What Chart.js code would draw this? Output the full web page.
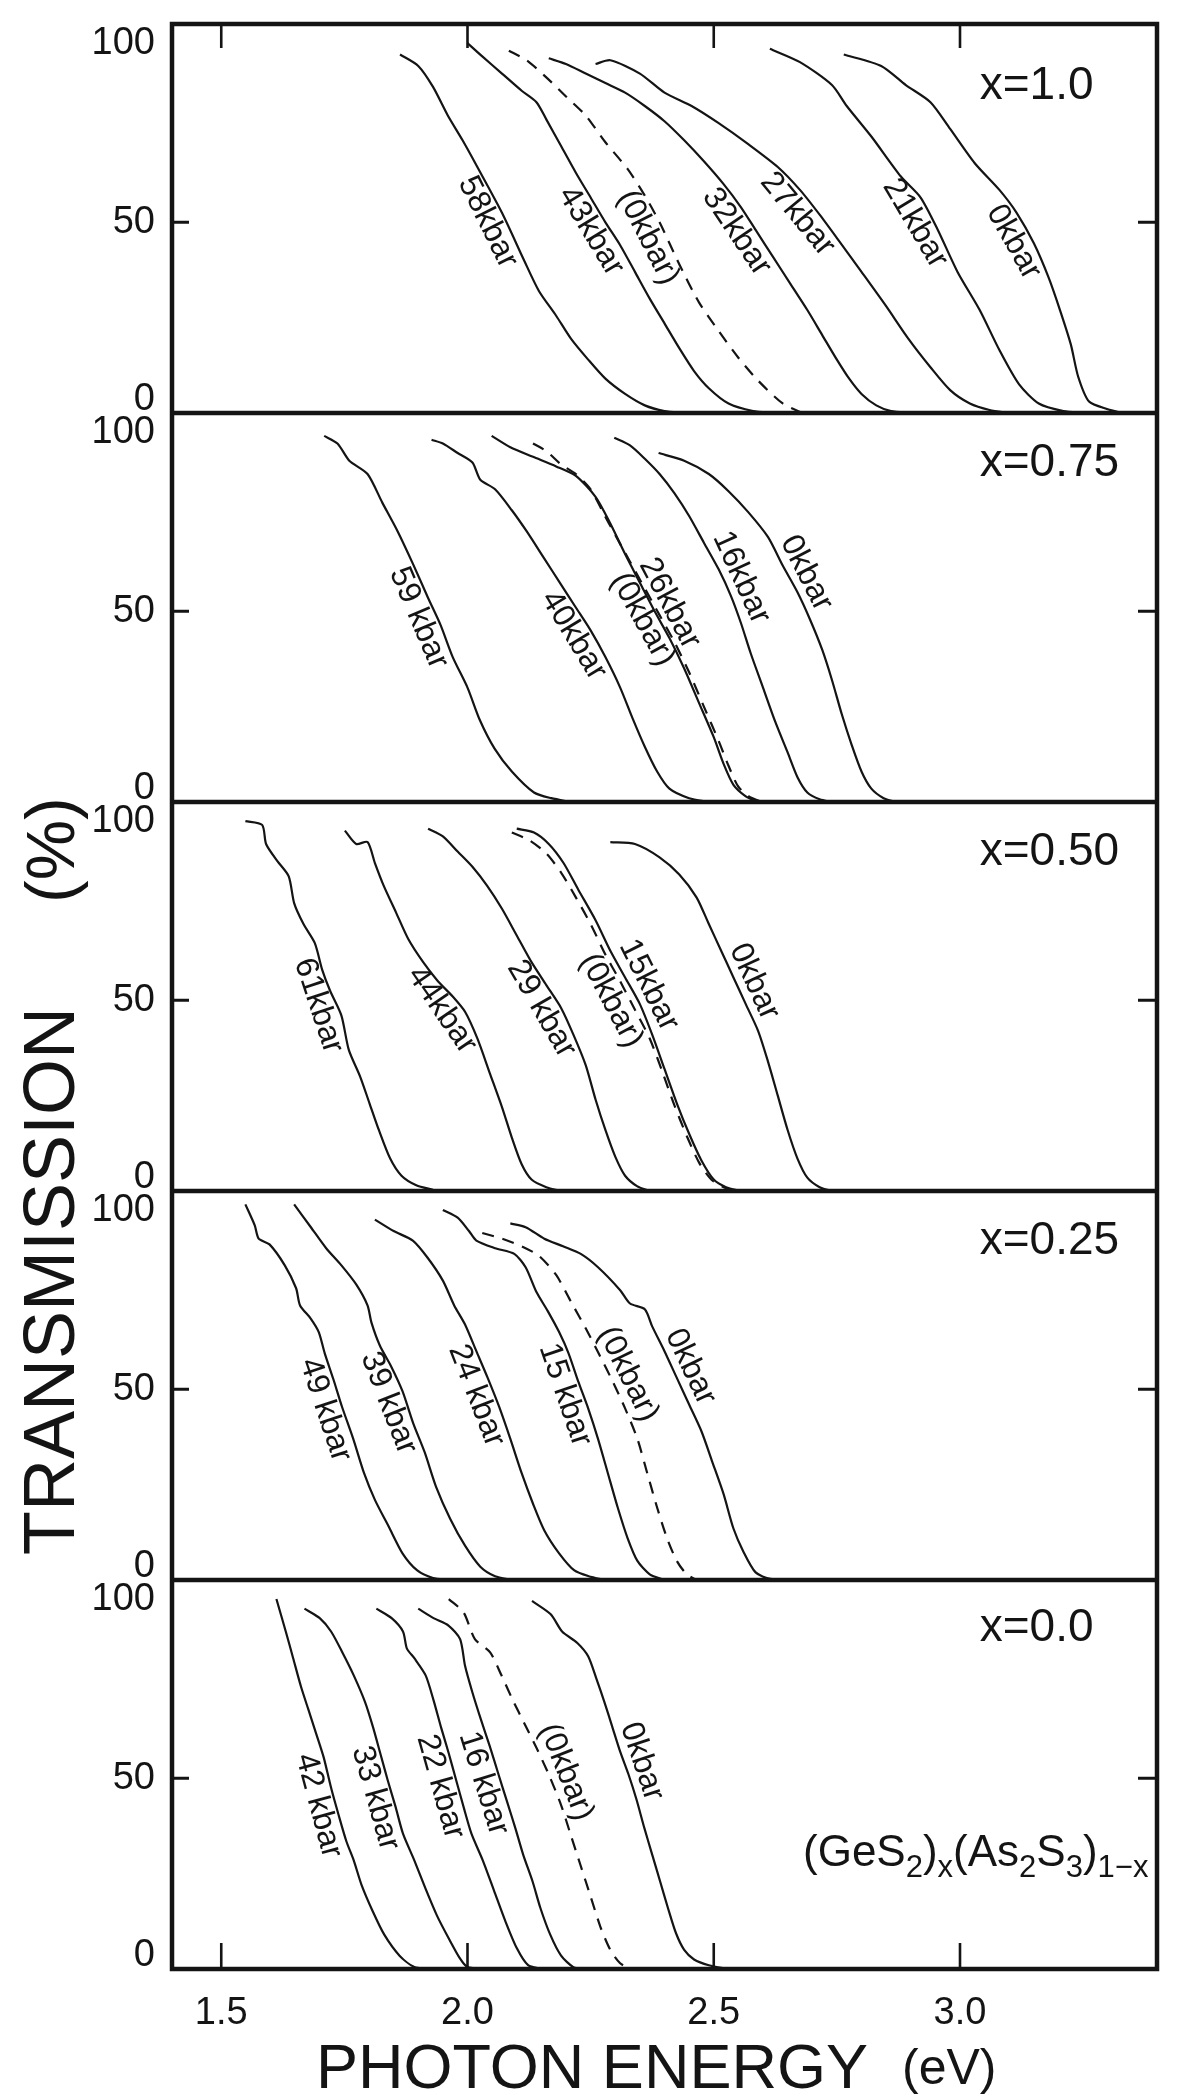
<!DOCTYPE html>
<html>
<head>
<meta charset="utf-8">
<script src="https://cdn.jsdelivr.net/npm/chart.js@4.4.1/dist/chart.umd.min.js"></script>
<style>
  html, body { margin: 0; padding: 0; background: #fff; }
  canvas { display: block; }
</style>
</head>
<body>
<canvas id="chart" width="1177" height="2096"></canvas>
<script>
// transmission edges of (GeS2)x(As2S3)1-x glasses under pressure
// every curve is [photon energy (eV), transmission (%)]

const panelNames = ['x=1.0', 'x=0.75', 'x=0.50', 'x=0.25', 'x=0.0'];
const xTicks = [1.5, 2.0, 2.5, 3.0];
const yTicks = [0, 50, 100];

// x = 1.0
const p1_58 = [[1.863,94],[1.90,91],[1.93,85.5],[1.96,78],[1.99,71.5],[2.02,64.5],[2.07,52.5],[2.115,40],[2.145,32],[2.18,25.5],[2.21,19.5],[2.245,14],[2.28,9],[2.32,5],[2.36,2],[2.40,0.5],[2.44,0]];
const p1_43 = [[2.00,97],[2.03,93.5],[2.07,89],[2.11,84.5],[2.14,81.5],[2.16,77],[2.19,70],[2.22,63],[2.25,56.5],[2.28,50],[2.31,44],[2.34,37],[2.37,30],[2.40,23.5],[2.43,17],[2.46,11],[2.49,6.5],[2.53,2.5],[2.58,0.5],[2.62,0]];
const p1_0r = [[2.084,95],[2.12,92.5],[2.16,88],[2.20,83],[2.24,78],[2.28,71],[2.325,64],[2.36,57],[2.39,50],[2.43,39],[2.47,29],[2.51,21.5],[2.55,14.5],[2.59,8.5],[2.64,2.5],[2.68,0]];
const p1_32 = [[2.165,93],[2.20,91.5],[2.24,89],[2.28,86.5],[2.32,84],[2.36,80.5],[2.40,76.5],[2.44,71.5],[2.48,66],[2.52,60],[2.555,54],[2.585,48],[2.62,41],[2.655,34],[2.69,27],[2.72,20.5],[2.75,14],[2.775,9],[2.80,5],[2.83,2],[2.86,0.5],[2.90,0]];
const p1_27 = [[2.26,91.5],[2.29,92.5],[2.35,89],[2.40,84],[2.455,80.5],[2.51,76],[2.57,70.5],[2.63,64.5],[2.675,58.5],[2.715,52],[2.755,45],[2.80,37],[2.85,28],[2.895,19.5],[2.94,12],[2.98,6],[3.02,2.5],[3.06,0.8],[3.10,0]];
const p1_21 = [[2.614,95.5],[2.675,92],[2.74,86],[2.77,80.5],[2.82,72.5],[2.88,62],[2.92,56.5],[2.955,48],[2.995,37],[3.04,27],[3.08,16.5],[3.12,7.5],[3.16,2.5],[3.21,0.5],[3.25,0]];
const p1_0 = [[2.764,94],[2.84,91],[2.89,86],[2.94,81.5],[2.98,74.5],[3.03,65.5],[3.08,58.5],[3.115,52.5],[3.15,44.5],[3.18,35.5],[3.203,27],[3.225,18],[3.24,9.5],[3.262,3],[3.30,1],[3.33,0]];

// x = 0.75
const p2_59 = [[1.709,96],[1.736,94],[1.76,89.5],[1.797,86],[1.827,78.5],[1.858,71],[1.889,62.5],[1.92,53.5],[1.945,46.5],[1.97,38],[2.00,30],[2.025,21.5],[2.055,14],[2.09,8],[2.135,2.5],[2.17,1],[2.21,0]];
const p2_40 = [[1.927,95],[1.95,94],[1.98,91.5],[2.01,89],[2.026,84.5],[2.056,82],[2.09,76.5],[2.12,71],[2.155,64],[2.19,57],[2.22,51],[2.25,45],[2.28,38],[2.31,30],[2.335,22],[2.36,14.5],[2.385,8],[2.41,3.5],[2.45,1],[2.49,0]];
const p2_0r = [[2.133,94],[2.16,92],[2.19,88.5],[2.22,86],[2.25,82],[2.275,76],[2.30,70],[2.33,63],[2.36,56],[2.39,49],[2.42,42],[2.45,34],[2.48,25],[2.51,16],[2.53,9.5],[2.55,4],[2.575,1.2],[2.60,0]];
const p2_26 = [[2.049,96],[2.087,93],[2.133,90.5],[2.18,88],[2.22,85.5],[2.26,80],[2.29,73],[2.32,65],[2.35,57.5],[2.38,50],[2.41,43],[2.44,35],[2.47,26],[2.50,17],[2.52,10],[2.54,4.5],[2.565,1.5],[2.59,0]];
const p2_16 = [[2.298,95.5],[2.33,93.5],[2.36,90],[2.39,86],[2.42,81],[2.45,75],[2.48,68],[2.51,61],[2.535,54],[2.555,47],[2.575,39],[2.60,30],[2.625,21],[2.65,13],[2.67,6.5],[2.69,2.5],[2.715,0.7],[2.74,0]];
const p2_0 = [[2.388,91.5],[2.44,89.5],[2.49,86],[2.53,81.5],[2.57,76],[2.61,69.5],[2.64,62],[2.67,55],[2.695,48],[2.72,40],[2.74,32],[2.76,23],[2.78,15],[2.80,8],[2.82,3.5],[2.845,1],[2.87,0]];

// x = 0.50
const p3_61 = [[1.549,97],[1.583,96],[1.591,91],[1.614,86.5],[1.637,82.5],[1.648,75.5],[1.667,70],[1.69,65],[1.705,58],[1.721,52.5],[1.744,46],[1.759,37],[1.782,30],[1.801,23],[1.82,16],[1.843,8.5],[1.866,4],[1.896,1.5],[1.93,0.3]];
const p3_44 = [[1.751,94.5],[1.774,91],[1.797,91.5],[1.812,86],[1.83,80],[1.855,73],[1.88,66],[1.91,60],[1.94,55],[1.97,51],[1.995,47],[2.02,40],[2.045,31],[2.07,22],[2.09,14],[2.11,7],[2.13,3],[2.16,1],[2.19,0]];
const p3_29 = [[1.92,95],[1.95,93],[1.98,89],[2.01,85],[2.04,80],[2.07,74],[2.10,67],[2.13,60],[2.16,54],[2.19,48],[2.215,41],[2.24,33],[2.26,24],[2.28,16],[2.30,9],[2.32,4],[2.345,1.2],[2.37,0]];
const p3_0r = [[2.09,94],[2.125,92],[2.16,88.5],[2.19,83.5],[2.22,77],[2.25,70],[2.28,62],[2.31,55],[2.34,47.5],[2.37,40],[2.395,31.5],[2.42,22.5],[2.445,14.5],[2.47,7.5],[2.495,3],[2.52,1],[2.545,0]];
const p3_15 = [[2.10,95],[2.135,94],[2.165,91],[2.195,86],[2.225,79],[2.26,71],[2.29,63],[2.32,56],[2.35,49],[2.375,41],[2.40,32],[2.425,23],[2.45,15],[2.475,8],[2.50,3],[2.525,1],[2.555,0]];
const p3_0 = [[2.29,91.5],[2.34,91],[2.39,87.5],[2.43,83],[2.465,77],[2.49,70],[2.515,63],[2.54,56],[2.565,49],[2.59,42],[2.61,34],[2.63,25],[2.65,16],[2.67,8.5],[2.69,3.5],[2.715,1],[2.74,0]];

// x = 0.25
const p4_49 = [[1.549,98.5],[1.568,93],[1.576,89.5],[1.598,88],[1.629,82.5],[1.652,76.5],[1.66,72],[1.682,68.5],[1.698,65],[1.71,59.5],[1.728,52.5],[1.745,45.5],[1.768,37],[1.79,28],[1.812,21],[1.84,14],[1.868,7],[1.898,2.5],[1.93,0.5],[1.96,0]];
const p4_39 = [[1.648,98.5],[1.682,92.5],[1.713,87],[1.744,82.5],[1.774,77.5],[1.797,72],[1.805,67.5],[1.822,61.5],[1.845,56],[1.868,49.5],[1.89,41],[1.913,33.5],[1.936,24.5],[1.965,16],[1.995,9],[2.026,3.5],[2.056,1],[2.09,0]];
const p4_24 = [[1.812,94.5],[1.85,91.5],[1.889,89],[1.919,84.5],[1.95,78.5],[1.973,72],[1.995,67],[2.018,60],[2.041,53],[2.064,45.5],[2.087,37],[2.11,28],[2.133,20],[2.156,13],[2.186,7],[2.217,2.5],[2.246,1],[2.28,0]];
const p4_15 = [[1.95,97],[1.98,95],[2.003,91.5],[2.018,89],[2.056,87],[2.095,85.5],[2.118,82],[2.14,75.5],[2.163,70.5],[2.186,65],[2.205,59.5],[2.225,52],[2.245,45],[2.265,37],[2.285,28],[2.305,19],[2.325,11],[2.345,5],[2.37,1.5],[2.40,0]];
const p4_0r = [[2.03,91],[2.07,89.5],[2.11,87.5],[2.145,85],[2.18,80],[2.21,73],[2.24,66],[2.268,59],[2.295,52],[2.32,45],[2.345,37],[2.365,28],[2.385,19],[2.405,11],[2.425,5],[2.445,1.5],[2.465,0]];
const p4_0 = [[2.087,93.5],[2.118,92.5],[2.156,89.5],[2.194,87.5],[2.23,85.5],[2.265,82],[2.31,76],[2.33,72.5],[2.36,71],[2.375,66.5],[2.40,60],[2.425,53],[2.45,46],[2.475,39],[2.497,31],[2.52,22.5],[2.54,13.5],[2.56,7.5],[2.585,2],[2.615,0.3],[2.70,0]];

// x = 0.0
const p5_42 = [[1.612,97],[1.631,88.5],[1.646,81.5],[1.662,74],[1.677,68],[1.692,62],[1.708,55.5],[1.723,47.5],[1.738,40.5],[1.754,33.5],[1.769,28.5],[1.785,22],[1.808,15],[1.831,9],[1.862,3.5],[1.892,0.5],[1.92,0]];
const p5_33 = [[1.669,94.5],[1.70,92],[1.723,88.5],[1.746,83],[1.769,77],[1.792,70],[1.808,63.5],[1.823,56.5],[1.838,49.5],[1.854,42.5],[1.869,35.5],[1.892,28.5],[1.915,21],[1.938,14],[1.962,8],[1.985,2.7],[2.00,0.5],[2.03,0]];
const p5_22 = [[1.815,94.5],[1.846,92],[1.869,88.5],[1.877,84],[1.892,81.5],[1.915,77],[1.931,70.5],[1.946,63.5],[1.962,56.5],[1.977,49.5],[1.992,42.5],[2.008,35.5],[2.031,28.5],[2.054,20.5],[2.077,12.5],[2.10,5.5],[2.123,1],[2.15,0]];
const p5_16 = [[1.90,94.5],[1.931,92],[1.962,90],[1.985,86.5],[1.995,79.5],[2.01,72.5],[2.027,65.5],[2.045,58.5],[2.063,51],[2.08,44],[2.097,37],[2.113,30],[2.132,23],[2.148,16],[2.168,9],[2.19,3.5],[2.215,0.5],[2.24,0]];
const p5_0r = [[1.962,97],[1.992,93.5],[2.015,86.5],[2.046,83],[2.069,77],[2.092,70.5],[2.115,64.5],[2.14,58],[2.165,51],[2.19,43],[2.21,35],[2.23,27],[2.25,19],[2.27,11],[2.29,5],[2.31,1.5],[2.33,0]];
const p5_0 = [[2.131,96.5],[2.169,93],[2.192,88.5],[2.223,85.5],[2.245,82],[2.262,76],[2.278,70],[2.294,63.5],[2.31,57],[2.327,51],[2.343,44.5],[2.359,37],[2.375,30],[2.391,23],[2.407,16],[2.423,9.5],[2.44,5],[2.46,2.5],[2.49,1],[2.53,0]];

const curves = [
  [p1_58, p1_43, p1_0r, p1_32, p1_27, p1_21, p1_0],
  [p2_59, p2_40, p2_0r, p2_26, p2_16, p2_0],
  [p3_61, p3_44, p3_29, p3_0r, p3_15, p3_0],
  [p4_49, p4_39, p4_24, p4_15, p4_0r, p4_0],
  [p5_42, p5_33, p5_22, p5_16, p5_0r, p5_0]
];
const curveNames = [
  ['58kbar', '43kbar', '(0kbar)', '32kbar', '27kbar', '21kbar', '0kbar'],
  ['59 kbar', '40kbar', '(0kbar)', '26kbar', '16kbar', '0kbar'],
  ['61kbar', '44kbar', '29 kbar', '(0kbar)', '15kbar', '0kbar'],
  ['49 kbar', '39 kbar', '24 kbar', '15 kbar', '(0kbar)', '0kbar'],
  ['42 kbar', '33 kbar', '22 kbar', '16 kbar', '(0kbar)', '0kbar']
];
// index of the dashed curve (after pressure release) in each panel
const dashedIndex = [2, 2, 3, 4, 4];
// transmission level where each label sits, and on which side of its curve
const labelLevel = [
  [52, 50, 48, 50, 55, 52, 47],
  [50, 46, 50, 50, 57, 58],
  [50, 50, 50, 52, 52, 53],
  [46, 48, 50, 50, 52, 54],
  [44, 46, 49, 50, 50, 53]
];
const labelSide = [
  [-1, -1, -1, -1, -1, -1, -1],
  [-1, -1, -1, 1, 1, 1],
  [-1, -1, -1, -1, 1, 1],
  [-1, -1, -1, -1, 1, 1],
  [-1, -1, -1, -1, 1, 1]
];
// vertical gap between each panel top and its composition label
const nameDrop = [62, 50, 50, 50, 48];

const NARROW = "'Liberation Sans Narrow', 'Liberation Sans', Arial, sans-serif";
const SANS = "'Liberation Sans', Arial, sans-serif";
const INK = '#141414';

const datasets = [];
curves.forEach((panel, i) => {
  panel.forEach((c, j) => {
    datasets.push({
      data: c.map(([x, y]) => ({x, y})),
      yAxisID: 'y' + i,
      xAxisID: 'x',
      showLine: true,
      borderColor: INK,
      borderWidth: 2.2,
      borderDash: j === dashedIndex[i] ? [12, 9] : [],
      pointRadius: 0,
      tension: 0.25,
      fill: false
    });
  });
});

const scales = {
  x: {
    type: 'linear',
    position: 'bottom',
    min: 1.4,
    max: 3.4,
    afterBuildTicks: s => { s.ticks = xTicks.map(v => ({value: v})); },
    afterFit: s => { s.height = 127; },
    ticks: {
      callback: v => v.toFixed(1),
      font: {family: NARROW, size: 38},
      color: INK,
      padding: 22,
      maxRotation: 0
    },
    grid: {display: false, drawTicks: false},
    border: {display: false}
  }
};
panelNames.forEach((n, i) => {
  scales['y' + i] = {
    type: 'linear',
    position: 'left',
    stack: 'panels',
    stackWeight: 1,
    weight: 5 - i,
    offset: false,
    min: 0,
    max: 102,
    afterFit: s => { s.width = 0; },
    ticks: {display: false},
    grid: {display: false, drawTicks: false},
    border: {display: false}
  };
});

function curveLabel(ctx, xs, ys, pts, text, level, side) {
  let k = -1, e = 0;
  for (let i = 0; i < pts.length - 1; i++) {
    const t0 = pts[i][1], t1 = pts[i + 1][1];
    if (t0 >= level && t1 <= level) {
      const f = t0 === t1 ? 0 : (t0 - level) / (t0 - t1);
      e = pts[i][0] + f * (pts[i + 1][0] - pts[i][0]);
      k = i;
      break;
    }
  }
  if (k < 0) return;
  const a = pts[Math.max(0, k - 1)], b = pts[Math.min(pts.length - 1, k + 2)];
  const th = Math.atan2(ys.getPixelForValue(b[1]) - ys.getPixelForValue(a[1]),
                        xs.getPixelForValue(b[0]) - xs.getPixelForValue(a[0]));
  const d = 17;
  const cx = xs.getPixelForValue(e) + side * d * Math.sin(th);
  const cy = ys.getPixelForValue(level) - side * d * Math.cos(th);
  ctx.save();
  ctx.translate(cx, cy);
  ctx.rotate(th);
  ctx.textAlign = 'center';
  ctx.textBaseline = 'middle';
  ctx.fillText(text, 0, 0);
  ctx.restore();
}

const decor = {
  id: 'decor',
  afterDraw(chart) {
    const {ctx, chartArea: a, scales: sc} = chart;
    const xs = sc.x;
    ctx.save();
    ctx.strokeStyle = INK;
    ctx.fillStyle = INK;

    // frame and panel separators
    ctx.lineWidth = 4.5;
    ctx.strokeRect(a.left, a.top, a.right - a.left, a.bottom - a.top);
    for (let i = 0; i < 4; i++) {
      const yb = sc['y' + i].bottom;
      ctx.beginPath(); ctx.moveTo(a.left, yb); ctx.lineTo(a.right, yb); ctx.stroke();
    }

    // inward ticks
    ctx.lineWidth = 3;
    for (let i = 0; i < 5; i++) {
      const y = sc['y' + i].getPixelForValue(50);
      ctx.beginPath();
      ctx.moveTo(a.left, y); ctx.lineTo(a.left + 17, y);
      ctx.moveTo(a.right - 19, y); ctx.lineTo(a.right, y);
      ctx.stroke();
    }
    ctx.lineWidth = 2.6;
    xTicks.forEach(v => {
      const x = xs.getPixelForValue(v);
      ctx.beginPath();
      ctx.moveTo(x, a.top); ctx.lineTo(x, a.top + 24);
      ctx.moveTo(x, a.bottom); ctx.lineTo(x, a.bottom - 26);
      ctx.stroke();
    });

    // y tick labels, 100 sits below the panel top and 0 above its bottom
    ctx.font = '38px ' + NARROW;
    ctx.textAlign = 'right';
    ctx.textBaseline = 'middle';
    for (let i = 0; i < 5; i++) {
      const s = sc['y' + i];
      yTicks.forEach(v => {
        let y = s.getPixelForValue(v);
        if (v === 100) y = s.top + 20;
        if (v === 0) y = s.bottom - 13;
        ctx.fillText(String(v), a.left - 17, y);
      });
    }

    // composition of each panel
    ctx.font = '46px ' + NARROW;
    ctx.textAlign = 'left';
    panelNames.forEach((n, i) => {
      ctx.fillText(n, xs.getPixelForValue(3.04), sc['y' + i].top + nameDrop[i]);
    });

    // pressure labels along the curves
    ctx.font = '32px ' + SANS;
    curves.forEach((panel, i) => {
      panel.forEach((c, j) => {
        curveLabel(ctx, xs, sc['y' + i], c, curveNames[i][j], labelLevel[i][j], labelSide[i][j]);
      });
    });

    // formula in the bottom panel
    const parts = [['(GeS', 0], ['2', 1], [')', 0], ['x', 1], ['(As', 0], ['2', 1], ['S', 0], ['3', 1], [')', 0], ['1\u2212x', 1]];
    let fx = 803;
    const fy = 1866;
    ctx.textBaseline = 'alphabetic';
    parts.forEach(([t, sub]) => {
      ctx.font = (sub ? '31px ' : '44px ') + SANS;
      ctx.fillText(t, fx, fy + (sub ? 11 : 0));
      fx += ctx.measureText(t).width;
    });

    // axis titles
    ctx.font = '63px ' + SANS;
    ctx.fillText('PHOTON ENERGY', 316, 2088);
    ctx.font = '50px ' + SANS;
    ctx.fillText('(eV)', 902, 2084);

    ctx.save();
    ctx.translate(74, 1555);
    ctx.rotate(-Math.PI / 2);
    ctx.font = '72px ' + SANS;
    ctx.fillText('TRANSMISSION', 0, 0);
    ctx.font = '68px ' + SANS;
    ctx.fillText('(%)', 652, 0);
    ctx.restore();

    ctx.restore();
  }
};

new Chart(document.getElementById('chart'), {
  type: 'scatter',
  data: {datasets},
  options: {
    responsive: false,
    devicePixelRatio: 1,
    animation: false,
    layout: {padding: {left: 172, right: 20, top: 24, bottom: 0}},
    plugins: {legend: {display: false}, tooltip: {enabled: false}},
    scales
  },
  plugins: [decor]
});
</script>
</body>
</html>
